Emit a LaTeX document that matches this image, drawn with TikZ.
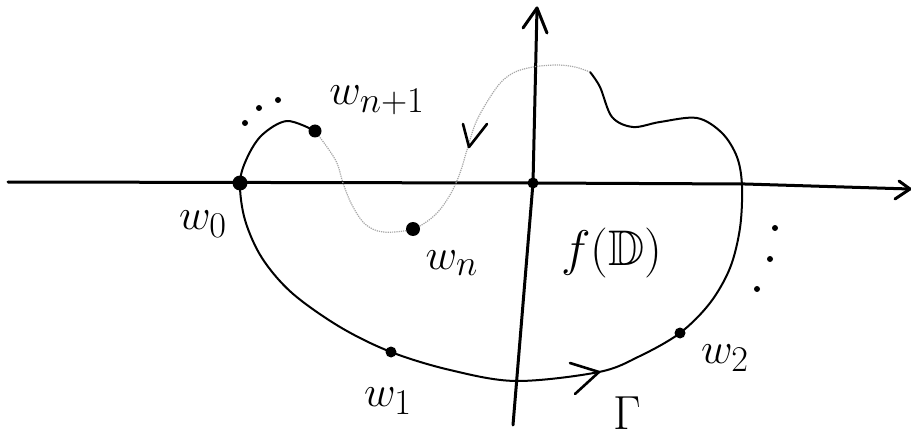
\documentclass[tikz,border=0pt]{standalone}
\usepackage{amssymb}
\begin{document}
\begin{tikzpicture}[x=1pt,y=-1pt,
  axis/.style={line width=3pt, line cap=round, line join=round},
  curve/.style={line width=2pt, line cap=round, line join=round},
  faint/.style={line width=1.2pt, gray!70, densely dotted},
  tip/.style={line width=2.6pt, line cap=round, line join=round},
  bigdot/.style={circle, fill=black, inner sep=0pt, minimum size=#1},
  lbl/.style={font=\Huge, inner sep=0pt, scale=1.75}]
\useasboundingbox (0,0) rectangle (911,441);
% axes
\coordinate (xl) at (8,182);
\coordinate (xr) at (910,189);
\coordinate (yb) at (513,425);
\coordinate (yt) at (537,8);
\draw[axis] (xl) -- (533,183) -- (745,184) -- (xr);
\draw[axis] (xr) -- (899,181);
\draw[axis] (xr) -- (895,199);
\draw[axis] (yb) -- (533,183) -- (yt);
\draw[axis] (yt) -- (523,28);
\draw[axis] (yt) -- (547,33);
% solid part of Gamma
\draw[curve] plot[smooth, tension=0.55] coordinates {
 (315,131) (287,121) (262,135) (247,158) (240,183) (245,220) (262,258)
 (292,293) (340,327) (391,352) (450,370) (516,381) (599,372) (640,356)
 (680,333) (710,303) (730,268) (740,228) (742,186) (737,157) (722,133)
 (697,118) (660,122) (633,127) (612,117) (600,87) (590,72)};
% faint part
\draw[faint] plot[smooth, tension=0.55] coordinates {
 (590,72) (575,67) (557,65) (533,67) (513,73) (497,87) (477,120) (467,150)
 (460,173) (450,195) (435,215) (413,229) (383,232) (365,224) (352,205)
 (343,183) (337,163) (327,147) (315,131)};
% direction marks
\coordinate (va) at (469,147);
\draw[tip] (463,124) -- (va) -- (487,124);
\coordinate (ba) at (599,372);
\draw[tip] (570,363) -- (ba) -- (575,394);
% points
\node[bigdot=15pt] (w0) at (240,183) {};
\node[bigdot=13pt] (wn1) at (315,131) {};
\node[bigdot=14pt] (wn) at (413,229) {};
\node[bigdot=11pt] (w1) at (391,352) {};
\node[bigdot=11pt] (w2) at (680,333) {};
\node[bigdot=11pt] (o) at (533,183) {};
% ellipses
\foreach \p/\n in {{(245,123)}/a,{(259,108)}/b,{(278,100)}/c,{(775,228)}/d,{(770,259)}/e,{(757,289)}/f}
  \node[bigdot=6pt] (e\n) at \p {};
% labels
\node[lbl] (lw0) at (203,224) {$w_0$};
\node[lbl] (lwn1) at (377,100) {$w_{n+1}$};
\node[lbl] (lwn) at (452,263) {$w_n$};
\node[lbl] (lw1) at (388,401) {$w_1$};
\node[lbl] (lw2) at (725,358) {$w_2$};
\node[lbl, scale=1.15] (lf) at (612,253) {$f(\mathbb{D})$};
\node[lbl, scale=1.1] (lg) at (627,413) {$\Gamma$};
\end{tikzpicture}
\end{document}
